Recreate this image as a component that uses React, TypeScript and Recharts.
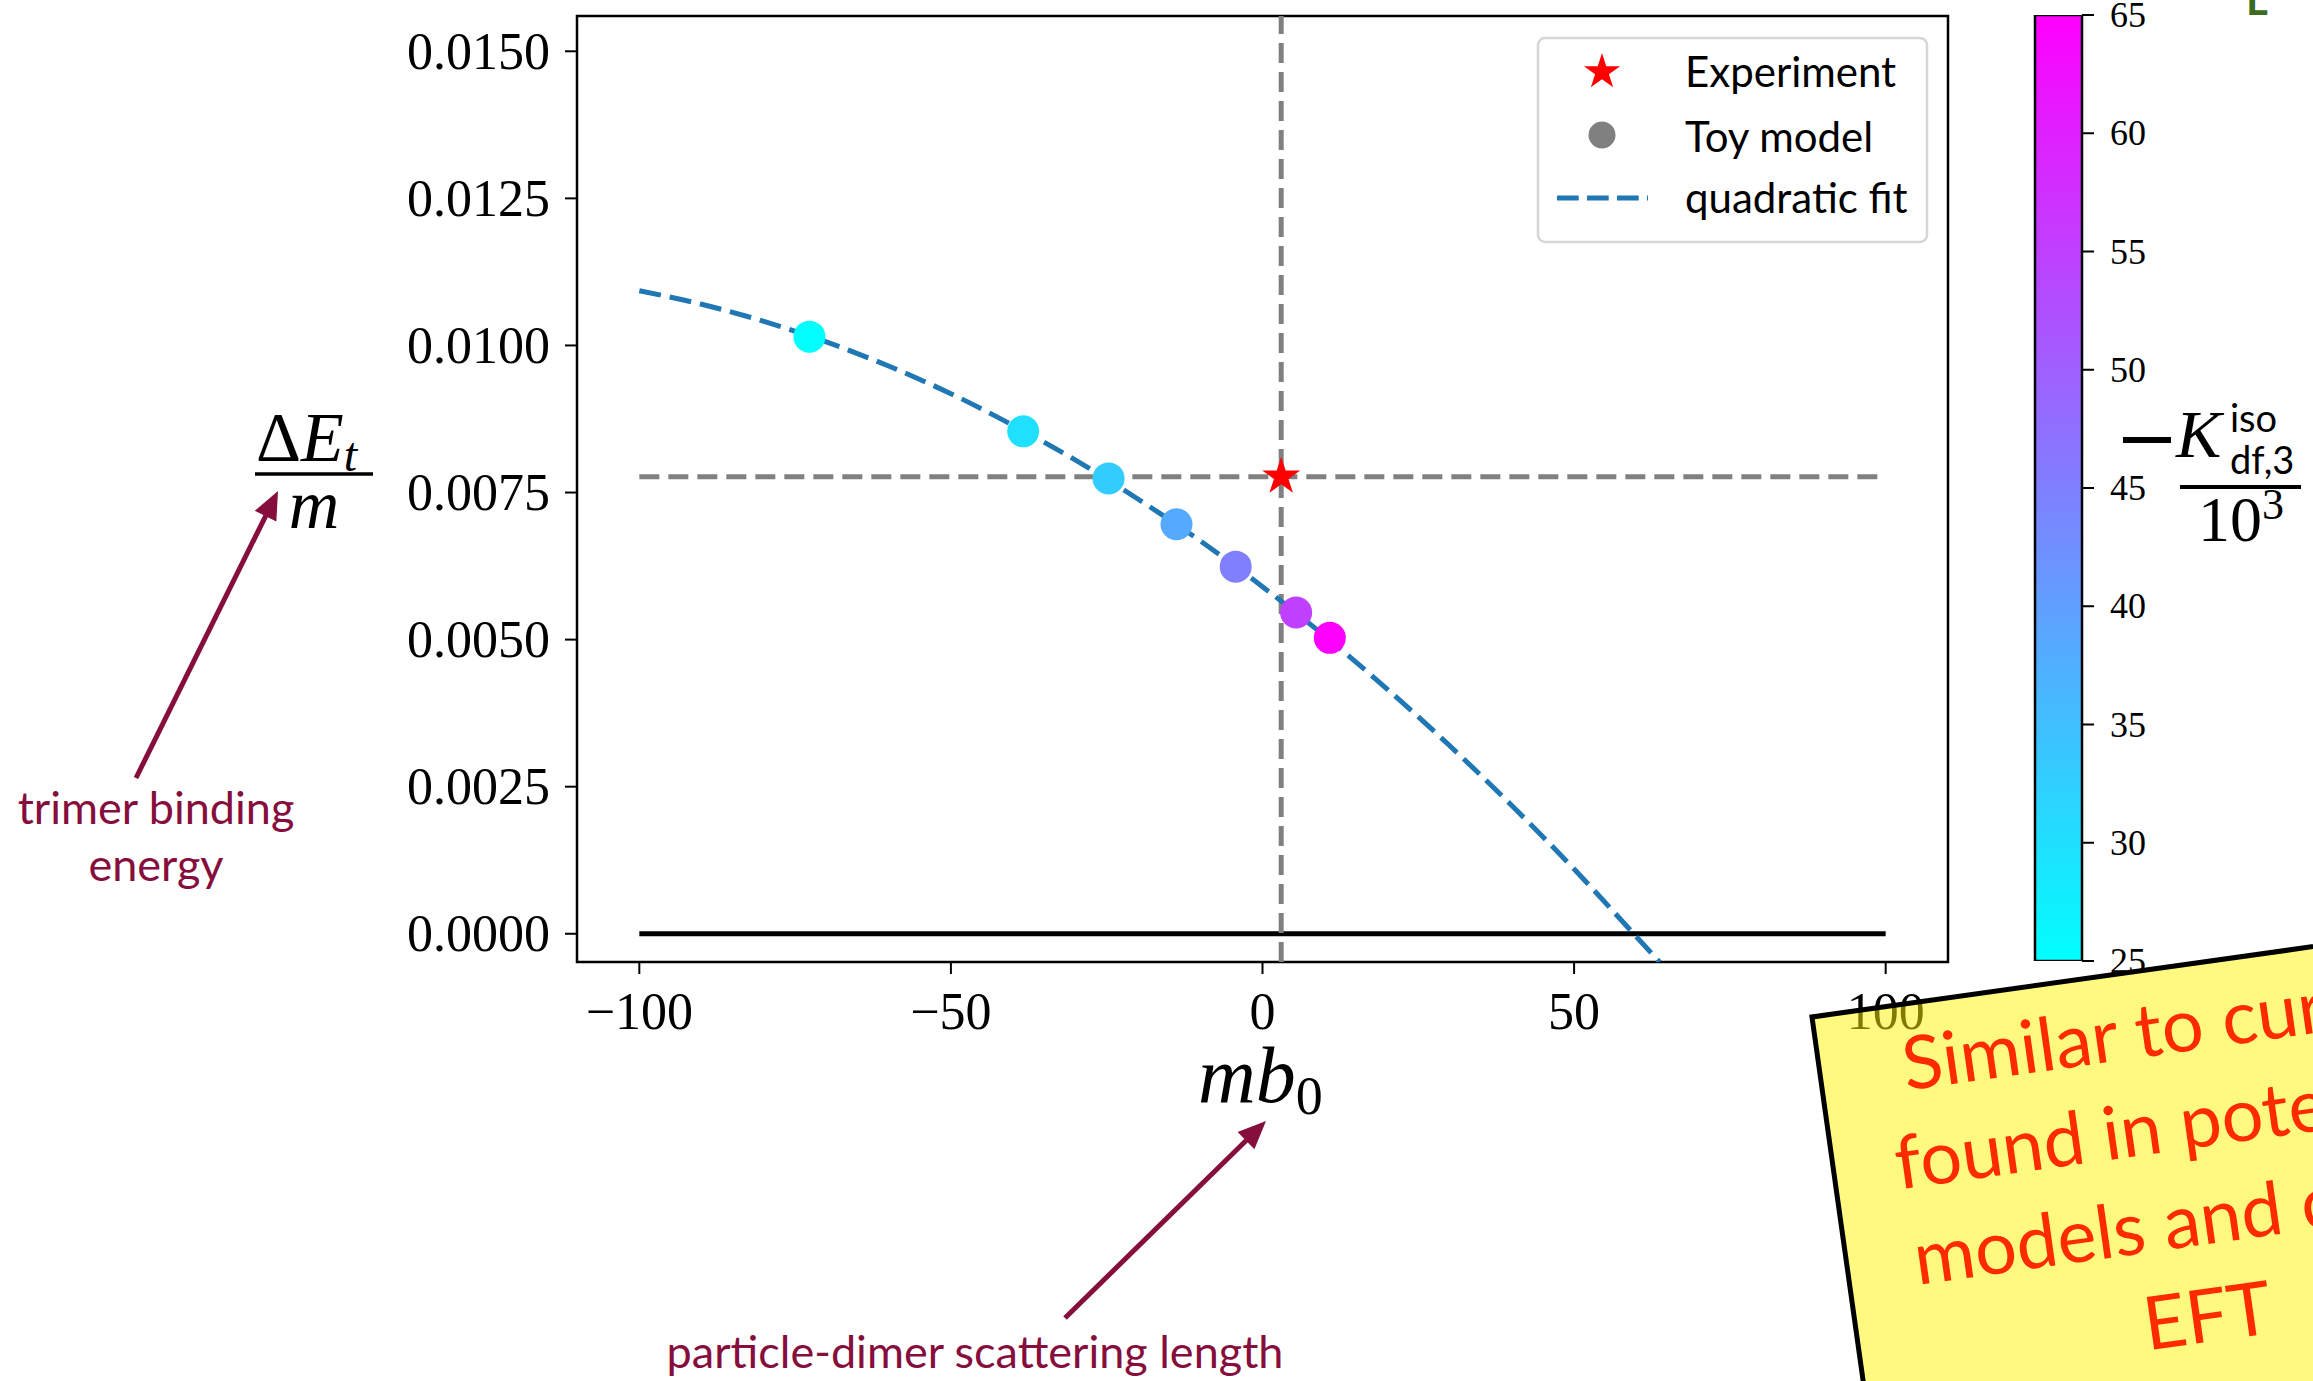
import React from "react";
import {
  ComposedChart, BarChart, Bar, Line, Scatter, XAxis, YAxis,
  ReferenceLine, ReferenceArea,
} from "recharts";

// toy model runs: particle-dimer scattering length, trimer energy, colour value (-K_df,3 / 10^3)
const toyMb0 = [-72.7, -38.4, -24.7, -13.8, -4.3, 5.4, 10.8];
const toyEnergy = [0.01015, 0.00854, 0.00774, 0.00696, 0.00624, 0.00546, 0.00503];
const toyK = [25, 29.8, 33, 38.3, 45, 55, 65];

// experimental point
const expMb0 = 3.0;
const expEnergy = 0.00777;

// quadratic fit curve, sampled
const fitMb0 = [-100, -90, -80, -70, -60, -50, -40, -30, -20, -10, 0, 10, 20, 30, 40, 50, 60, 63.7];
const fitEnergy = [
  0.01093, 0.0107, 0.01041, 0.01006, 0.00965, 0.00918, 0.00864, 0.00805, 0.00739,
  0.00668, 0.0059, 0.00506, 0.00416, 0.0032, 0.00218, 0.0011, -0.00005, -0.00048,
];

const lineSpan = [-100, 100];
const xTicks = [-100, -50, 0, 50, 100];
const yTicks = [0, 0.0025, 0.005, 0.0075, 0.01, 0.0125, 0.015];
const xDomain = [-110, 110];
const yDomain = [-0.00048, 0.0156];

const cbTicks = [25, 30, 35, 40, 45, 50, 55, 60, 65];
const cbRange = [25, 65];

const SERIF = "'Liberation Serif', 'DejaVu Serif', serif";
const SANS = "Lato, 'Open Sans', sans-serif";
const MAROON = "#860e3d";
const BLUE = "#1f77b4";
const GREY = "#808080";

const toyData = toyMb0.map((x, i) => ({ x, y: toyEnergy[i], k: toyK[i] }));
const expData = [{ x: expMb0, y: expEnergy }];
const fitData = fitMb0.map((x, i) => ({ x, y: fitEnergy[i] }));

// matplotlib "cool" colormap
function cool(v: number) {
  const t = Math.min(1, Math.max(0, (v - cbRange[0]) / (cbRange[1] - cbRange[0])));
  return `rgb(${Math.round(255 * t)},${Math.round(255 * (1 - t))},255)`;
}

function starPath(cx: number, cy: number, R: number) {
  const r = R * 0.382;
  const pts: string[] = [];
  for (let i = 0; i < 10; i++) {
    const a = -Math.PI / 2 + (i * Math.PI) / 5;
    const rad = i % 2 === 0 ? R : r;
    pts.push(`${cx + rad * Math.cos(a)},${cy + rad * Math.sin(a)}`);
  }
  return "M" + pts.join("L") + "Z";
}

const ToyDot = (p: any) => <circle cx={p.cx} cy={p.cy} r={16} fill={cool(p.payload.k)} />;
const ExpStar = (p: any) => <path d={starPath(p.cx, p.cy, 20)} fill="#ff0000" />;

const fmtX = (v: number) => (v < 0 ? "\u2212" + Math.abs(v) : String(v));

const XTick = (p: any) => (
  <text x={p.x} y={p.y} dy="0.71em" textAnchor="middle" fontFamily={SERIF} fontSize={52} fill="#000">
    {fmtX(p.payload.value)}
  </text>
);

const YTick = (p: any) => (
  <text x={p.x} y={p.y} dy="0.34em" textAnchor="end" fontFamily={SERIF} fontSize={52} fill="#000">
    {p.payload.value.toFixed(4)}
  </text>
);

const CbTick = (p: any) => (
  <text x={p.x} y={p.y} dy="0.34em" textAnchor="start" fontFamily={SERIF} fontSize={36} fill="#000">
    {p.payload.value}
  </text>
);

const CbShape = (p: any) => (
  <g>
    <defs>
      <linearGradient id="coolGrad" x1="0" y1="1" x2="0" y2="0">
        <stop offset="0" stopColor={cool(cbRange[0])} />
        <stop offset="1" stopColor={cool(cbRange[1])} />
      </linearGradient>
    </defs>
    <rect x={p.x} y={p.y} width={p.width} height={p.height} fill="url(#coolGrad)" stroke="#000" strokeWidth={2.5} />
  </g>
);

function Arrow({ x1, y1, x2, y2 }: { x1: number; y1: number; x2: number; y2: number }) {
  const len = Math.hypot(x2 - x1, y2 - y1);
  const ux = (x2 - x1) / len;
  const uy = (y2 - y1) / len;
  const hl = 28;
  const hw = 12;
  const bx = x2 - ux * hl;
  const by = y2 - uy * hl;
  return (
    <g>
      <line x1={x1} y1={y1} x2={bx + ux * 2} y2={by + uy * 2} stroke={MAROON} strokeWidth={5} />
      <polygon
        points={`${x2},${y2} ${bx - uy * hw},${by + ux * hw} ${bx + uy * hw},${by - ux * hw}`}
        fill={MAROON}
      />
    </g>
  );
}

function Overlay() {
  return (
    <svg width={2313} height={1381} style={{ position: "absolute", left: 0, top: 0, pointerEvents: "none" }}>
      {/* legend */}
      <rect x={1538} y={38} width={389} height={204} rx={7} fill="#fff" fillOpacity={0.8} stroke="#d6d6d6" strokeWidth={2.5} />
      <path d={starPath(1602, 72, 19)} fill="#ff0000" />
      <circle cx={1602} cy={135} r={13.5} fill={GREY} />
      <line x1={1557} y1={198} x2={1648} y2={198} stroke={BLUE} strokeWidth={5} strokeDasharray="21.7 8.3" />
      <g fontFamily={SANS} fontSize={42} fill="#000">
        <text x={1685} y={87}>Experiment</text>
        <text x={1685} y={152}>Toy model</text>
        <text x={1685} y={213}>quadratic fit</text>
      </g>

      {/* y label: dE_t / m */}
      <text x={256} y={461} fontFamily={SERIF} fontSize={70} fill="#000">
        <tspan>Δ</tspan>
        <tspan fontStyle="italic">E</tspan>
        <tspan fontStyle="italic" fontSize={48} dy={10}>t</tspan>
      </text>
      <line x1={255} y1={474} x2={373} y2={474} stroke="#000" strokeWidth={3.5} />
      <text x={314} y={528} textAnchor="middle" fontFamily={SERIF} fontStyle="italic" fontSize={70} fill="#000">m</text>

      {/* x label: m b_0 */}
      <text x={1198} y={1102} fontFamily={SERIF} fontStyle="italic" fontSize={80} fill="#000">
        mb<tspan fontStyle="normal" fontSize={54} dy={12}>0</tspan>
      </text>

      {/* colour bar label */}
      <line x1={2123} y1={440} x2={2171} y2={440} stroke="#000" strokeWidth={6} />
      <text x={2176} y={457} fontFamily={SERIF} fontStyle="italic" fontSize={68} fill="#000">K</text>
      <text x={2230} y={432} fontFamily={SANS} fontSize={38} fill="#000">iso</text>
      <text x={2230} y={474} fontFamily={SANS} fontSize={38} fill="#000">df,3</text>
      <line x1={2180} y1={487} x2={2301} y2={487} stroke="#000" strokeWidth={4} />
      <text x={2198} y={541} fontFamily={SERIF} fontSize={64} fill="#000">
        10<tspan fontSize={44} dy={-22}>3</tspan>
      </text>

      {/* annotations */}
      <Arrow x1={136} y1={778} x2={278} y2={491} />
      <g fontFamily={SANS} fontSize={45} fill={MAROON} textAnchor="middle">
        <text x={156} y={824}>trimer binding</text>
        <text x={156} y={881}>energy</text>
      </g>
      <Arrow x1={1065} y1={1318} x2={1266} y2={1121} />
      <text x={975} y={1368} textAnchor="middle" fontFamily={SANS} fontSize={45} fill={MAROON}>
        particle-dimer scattering length
      </text>

      {/* slide fragment at top right */}
      <text x={2246} y={15} fontFamily={SANS} fontWeight={700} fontSize={42} fill="#3b6b1f">L</text>

      {/* note box */}
      <g transform="translate(1812,1017) rotate(-8)">
        <rect x={0} y={0} width={900} height={600} fill="#fff500" fillOpacity={0.5} stroke="#000" strokeWidth={5} />
        <g fontFamily={SANS} fontSize={74} fill="#ff2a00" textAnchor="middle">
          <text x={350} y={86}>Similar to curves</text>
          <text x={350} y={183}>found in potential</text>
          <text x={350} y={280}>models and chiral</text>
          <text x={350} y={377}>EFT</text>
        </g>
      </g>
    </svg>
  );
}

export default function App() {
  return (
    <div style={{ position: "absolute", left: 0, top: 0, width: 2313, height: 1381, overflow: "hidden", background: "#fff" }}>
      <ComposedChart width={2313} height={1381} margin={{ top: 16, right: 365, bottom: 319, left: 477 }}>
        <XAxis
          type="number"
          dataKey="x"
          domain={xDomain}
          ticks={xTicks}
          allowDataOverflow
          axisLine={false}
          tickLine={{ stroke: "#000", strokeWidth: 2 }}
          tickSize={12}
          tickMargin={18}
          height={100}
          tick={XTick}
        />
        <YAxis
          type="number"
          dataKey="y"
          domain={yDomain}
          ticks={yTicks}
          allowDataOverflow
          axisLine={false}
          tickLine={{ stroke: "#000", strokeWidth: 2 }}
          tickSize={12}
          tickMargin={15}
          width={100}
          tick={YTick}
        />
        <ReferenceLine
          segment={[{ x: lineSpan[0], y: 0 }, { x: lineSpan[1], y: 0 }]}
          stroke="#000"
          strokeWidth={5}
        />
        <ReferenceLine x={expMb0} stroke={GREY} strokeWidth={5} strokeDasharray="20 9" />
        <ReferenceLine
          segment={[{ x: lineSpan[0], y: expEnergy }, { x: lineSpan[1], y: expEnergy }]}
          stroke={GREY}
          strokeWidth={5}
          strokeDasharray="20 9"
        />
        <Line
          data={fitData}
          dataKey="y"
          type="monotone"
          stroke={BLUE}
          strokeWidth={5}
          strokeDasharray="22 9"
          dot={false}
          isAnimationActive={false}
        />
        <Scatter data={toyData} dataKey="y" shape={ToyDot} isAnimationActive={false} />
        <Scatter data={expData} dataKey="y" shape={ExpStar} isAnimationActive={false} />
        <ReferenceArea
          x1={xDomain[0]}
          x2={xDomain[1]}
          y1={yDomain[0]}
          y2={yDomain[1]}
          fill="none"
          fillOpacity={0}
          stroke="#000"
          strokeWidth={2.5}
        />
      </ComposedChart>

      <div style={{ position: "absolute", left: 2000, top: 0 }}>
        <BarChart
          width={313}
          height={1381}
          data={[{ name: "cb", range: cbRange }]}
          margin={{ top: 15, right: 0, bottom: 420, left: 35 }}
          barCategoryGap={0}
        >
          <XAxis dataKey="name" hide />
          <YAxis
            orientation="right"
            type="number"
            domain={cbRange}
            ticks={cbTicks}
            allowDataOverflow
            axisLine={false}
            tickLine={{ stroke: "#000", strokeWidth: 2 }}
            tickSize={12}
            tickMargin={16}
            width={231}
            tick={CbTick}
          />
          <Bar dataKey="range" shape={CbShape} isAnimationActive={false} />
        </BarChart>
      </div>

      <Overlay />
    </div>
  );
}
